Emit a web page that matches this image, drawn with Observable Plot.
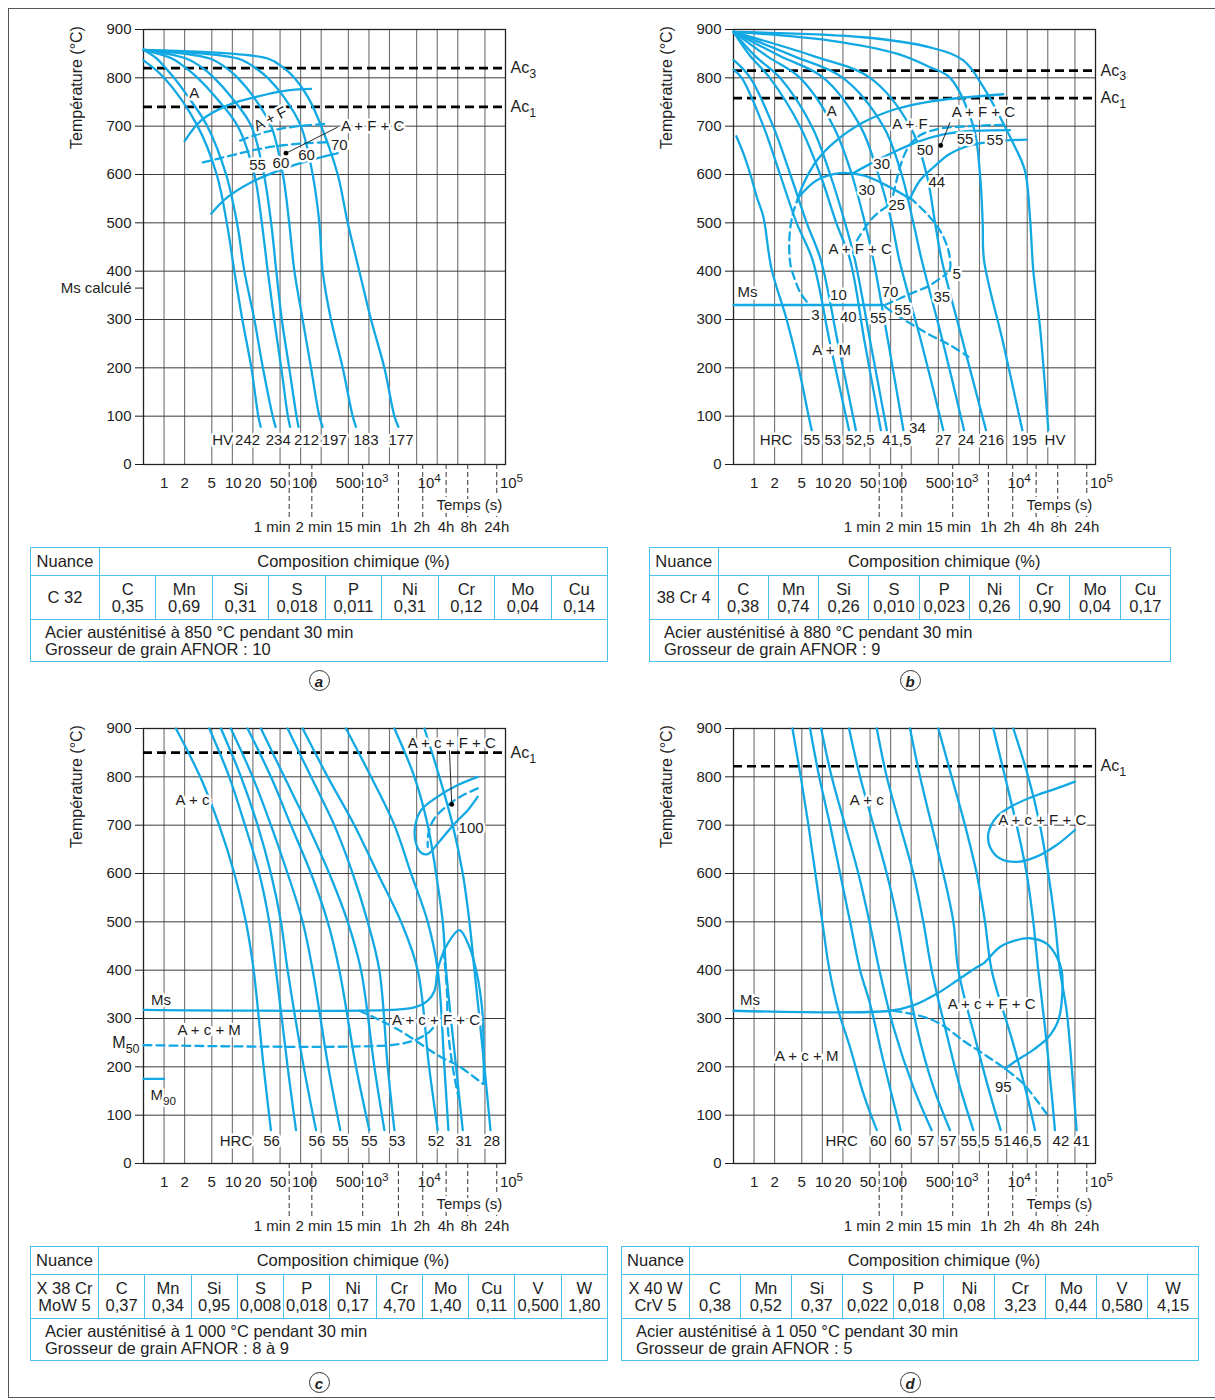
<!DOCTYPE html>
<html><head><meta charset="utf-8">
<script src="https://cdn.jsdelivr.net/npm/d3@7"></script>
<script src="https://cdn.jsdelivr.net/npm/@observablehq/plot@0.6"></script>
<style>
body{margin:0;background:#fff;}
#page{position:relative;width:1215px;height:1400px;overflow:hidden;font-family:'Liberation Sans',Arial,sans-serif;color:#1e1e1e;}
.frame{position:absolute;left:8px;top:8px;width:1240px;height:1390px;border:1.5px solid #555;box-sizing:border-box;}
.panel{position:absolute;}
table.tbl{position:absolute;border-collapse:collapse;table-layout:fixed;font-size:16.5px;color:#1e1e1e;}
table.tbl td{border:1.6px solid #4dbfec;text-align:center;padding:0;line-height:17px;white-space:nowrap;}
.circ{position:absolute;width:21px;height:21px;border:1.3px solid #333;border-radius:50%;text-align:center;font-style:italic;font-weight:bold;font-size:15px;line-height:21px;box-sizing:border-box;}
</style></head>
<body>
<div id="page"><div class="frame"></div></div>
<script>
// ---------------- shared axis data ----------------
const xGrid = [1,2,5,10,20,50,100,200,500,1e3,2e3,5e3,1e4,2e4,5e4];
const yGrid = [100,200,300,400,500,600,700,800];
const yTickValues = [0,100,200,300,400,500,600,700,800,900];
const xTickValues = [1,2,5,10,20,50,100,500,1000,10000,100000];
const xTickLabels = ["1","2","5","10","20","50","100","500","10³","10⁴","10⁵"];
const markTimes = [68,146,811,2700,6140,13500,28000,74500];
const markLabels = ["1 min","2 min","15 min","1h","2h","4h","8h","24h"];

// ---------------- panel a : C 32 ----------------
const aAc = [820, 740];
const aAcLabels = ["Ac₃","Ac₁"];
const aMsCalc = 365;
const aCooling = [
 [[0.5,836],[1.0,800],[3.1,700],[5.9,600],[8.3,500],[10.7,400],[14,300],[19,200],[24,100],[26,78]],
 [[0.5,858],[0.78,840],[1.06,820],[1.4,800],[2.27,760],[4.3,700],[8.1,600],[11.7,500],[15,400],[21,300],[28,200],[39,100],[43,78]],
 [[0.5,858],[1.3,840],[2.1,820],[3.1,800],[5.7,760],[12,700],[21,600],[27,500],[33,400],[41,300],[52,200],[65,100],[70,78]],
 [[0.5,858],[2.1,840],[3.7,820],[5.4,800],[9.7,760],[19,700],[29,600],[37,500],[44,400],[53,300],[68,200],[87,100],[93,78]],
 [[0.5,858],[4.65,840],[8.2,820],[12,800],[20.6,760],[37,700],[55,600],[68,500],[81,400],[107,300],[142,200],[188,100],[210,78]],
 [[0.5,858],[12,840],[22,820],[33,800],[57,760],[101,700],[150,600],[188,500],[210,400],[278,300],[413,200],[578,100],[647,78]],
 [[0.5,858],[33,840],[57,820],[81,800],[128,760],[200,700],[349,600],[489,500],[724,400],[1074,300],[1683,200],[2360,100],[2697,78]]
];
const aSolid = [
 [[2.0,669],[3.5,712],[8.5,743],[23,761],[65,774],[142,777]],
 [[4.9,519],[8.5,553],[19,584],[52,610],[127,628],[349,644]]
];
const aDashed = [
 [[13,670],[23,683],[41,692],[81,699],[249,705]],
 [[3.7,625],[6.8,634],[13,644],[23,652],[52,660],[127,665],[279,667]]
];
const aLabels = [["A",2.76,768],["A + F",36,715,-28],["A + F + C",1135,700],["55",23.4,619],["60",51.5,623],["60",122,639],["70",369,661]];
const aDots = [[61,644]];
const aPointers = [[61,644,349,698]];
const aBottom = [["HV",7.2],["242",16.7],["234",47],["212",122],["197",311],["183",906],["177",2950]];

// ---------------- panel b : 38 Cr 4 ----------------
const bAc = [815, 758];
const bAcLabels = ["Ac₃","Ac₁"];
const bCooling = [
 [[0.55,679],[0.7,643],[0.88,601],[1.1,553],[1.37,512],[1.8,405],[3.0,300],[4.5,200],[6.3,100],[7.0,71]],
 [[0.5,817],[0.66,800],[1.37,700],[2.4,600],[4.2,500],[7.2,423],[13,250],[24.6,71]],
 [[0.5,837],[0.88,800],[1.9,700],[3.4,600],[5.9,500],[9.5,423],[17,250],[31,71]],
 [[0.5,895],[0.88,845],[1.7,800],[4.7,700],[9.3,600],[16,500],[25.5,423],[42,250],[72,71]],
 [[0.5,895],[1.04,845],[2.4,800],[7.0,700],[13,600],[21.5,500],[30,423],[51,250],[88,71]],
 [[0.5,895],[1.54,845],[4.7,800],[14.5,700],[27,600],[42,500],[56,423],[93,250],[154,71]],
 [[0.5,895],[2.4,845],[10.4,800],[36,700],[66,600],[104,500],[134,423],[285,250],[591,71]],
 [[0.5,895],[3.8,845],[20,800],[78,700],[145,600],[215,500],[285,423],[591,250],[1188,71]],
 [[0.5,895],[7.4,845],[50,800],[192,700],[337,600],[447,500],[560,423],[1161,250],[2493,71]],
 [[0.5,895],[13,877],[123,850],[378,822],[741,800],[1626,700],[2037,600],[2228,500],[2330,423],[4470,250],[8480,71]],
 [[0.5,895],[40,884],[378,863],[1161,836],[2280,781],[3570,732],[6260,664],[9270,608],[10970,512],[12280,401],[15370,285],[20380,71]]
];
const bSolid = [
 [[0.5,330],[78,330]],
 [[4.2,543],[5.3,581],[8.3,629],[16,670],[40,708],[123,736],[378,751],[1161,759],[4470,766]],
 [[4.5,553],[8.3,588],[18,603],[40,598],[88,577],[192,550]],
 [[192,550],[270,588],[423,615],[741,643],[1451,660],[3570,669],[9810,672]],
 [[27,601],[50,622],[110,646],[241,667],[591,683],[1451,690],[5600,692]]
];
const bDashed = [
 [[98,532],[116,574],[137,615],[182,657],[270,681],[529,695],[1451,700],[4730,703]],
 [[32,463],[56,512],[110,541],[192,552]],
 [[5.9,337],[4.7,357],[4.0,381],[3.4,415],[3.3,470],[3.7,519],[4.5,553]],
 [[192,552],[337,519],[529,484],[700,443],[741,405],[662,395]],
 [[83,330],[172,350],[378,371],[662,395]],
 [[83,326],[123,309],[215,288],[378,268],[741,247],[1374,223]]
];
const bLabels = [["A",13.7,732],["A + F",192,705],["A + F + C",2280,729],["30",74,622],["30",44.7,567],["50",319,650],
 ["55",1227,674],["55",3370,670],["44",473,584],["25",123,536],["A + F + C",35.7,446],["Ms",0.8,357],["10",17.2,350],
 ["70",98,357],["35",560,347],["5",927,394],["3",7.9,309],["40",24,305],["55",66,302],["55",150,319],["A + M",13.7,236],["34",247,75]];
const bDots = [[541,660]];
const bPointers = [[541,660,741,708]];
const bBottom = [["HRC",2.1],["55",7.0],["53",14.2],["52,5",35.7],["41,5",123],["27",591],["24",1270],["216",3015],["195",9070],["HV",25500]];

// ---------------- panel c : X 38 CrMoW 5 ----------------
const cAc = [850];
const cAcLabels = ["Ac₁"];
const cCooling = [
 [[1.49,900],[3.38,800],[6.4,700],[10.7,600],[15.8,500],[20.5,400],[28.7,200],[36.7,69]],
 [[4.6,900],[9.0,800],[15.3,700],[24.8,600],[34.7,500],[43.5,400],[64.5,200],[85.5,69]],
 [[6.8,900],[13.4,800],[23.4,700],[36.7,600],[51.5,500],[64.5,400],[111,200],[168,69]],
 [[9.5,900],[19.8,800],[36.7,700],[64.5,600],[107,500],[150,400],[254,200],[381,69]],
 [[16.7,900],[36.7,800],[72,700],[142,600],[249,500],[369,400],[647,200],[1014,69]],
 [[26.2,900],[57.6,800],[127,700],[263,600],[489,500],[766,400],[1202,200],[1683,69]],
 [[64.5,900],[142,800],[311,700],[578,600],[959,500],[1422,400],[1884,200],[2360,69]],
 [[107,900],[249,800],[612,700],[1343,600],[2953,500],[5183,400],[7605,200],[10185,69]],
 [[461,900],[1074,800],[2360,700],[4140,600],[7265,500],[10185,400],[12735,200],[14585,69]],
 [[2360,900],[4633,800],[7265,700],[9620,600],[12050,500],[13490,400],[18880,200],[23660,69]],
 [[6486,900],[10766,800],[16895,700],[23660,600],[29645,500],[35075,400],[49175,200],[60250,69]]
];
const cSolid = [
 [[0.5,318],[2108,318],[4633,323],[7265,337],[9100,357],[9950,392],[10766,414],[14260,455],[21140,483],[29645,448],[37130,400],[42950,350],[46500,302],[48000,213],[48000,165]],
 [[0.5,175],[1,175]],
 [[39270,800],[20000,783],[10185,759],[5810,731],[4740,697],[4900,662],[5810,643],[7265,640],[10185,662],[17870,703],[28040,731],[39270,759]]
];
const cDashed = [
 [[0.5,245],[2108,245],[4633,255],[7605,272],[9620,289]],
 [[724,316],[1202,302],[2108,285],[3700,265],[6486,242],[11400,220],[20000,203],[46500,165]],
 [[12470,441],[13160,400],[13950,351],[14260,282],[16895,199],[20460,137]],
 [[39270,776],[22380,760],[13490,738],[9100,714],[7430,683],[7265,655]]
];
const cLabels = [["A + c",2.61,752],["A + c + F + C",16330,869],["100",31340,693],["Ms",0.9,338],["A + c + M",4.58,275],["M₉₀",0.97,141],["A + c + F + C",9620,296]];
const cM50 = 250;
const cDots = [[16330,743]];
const cPointers = [[16330,743,15100,855]];
const cBottom = [["HRC",11.3],["56",37.6],["56",173],["55",381],["55",1014],["53",2580],["52",9620],["31",24500],["28",62900]];

// ---------------- panel d : X 40 WCrV 5 ----------------
const dAc = [822];
const dAcLabels = ["Ac₁"];
const dCooling = [
 [[3.65,900],[4.83,800],[6.26,700],[7.9,600],[10,500],[12.7,400],[17.2,316],[25.5,240],[40,144],[62.7,69]],
 [[6.6,900],[9.0,800],[13,700],[18.2,600],[25.5,500],[35.7,400],[50,330],[78,213],[140,69]],
 [[9.6,900],[13.7,800],[21.5,700],[33.7,600],[48.9,500],[68.5,400],[110,282],[215,158],[399,69]],
 [[24.6,900],[35.7,800],[56,700],[87.7,600],[127,500],[168,400],[241,282],[423,158],[741,69]],
 [[62.7,900],[87.7,800],[137,700],[215,600],[301,500],[399,400],[662,268],[1038,158],[1626,69]],
 [[192,900],[270,800],[399,700],[591,600],[830,500],[981,400],[1820,247],[2851,144],[4083,69]],
 [[500,900],[783,800],[1227,700],[1820,600],[2410,500],[3015,400],[6260,247],[9810,144],[13000,69]],
 [[3190,900],[4730,800],[7000,700],[9810,600],[12280,500],[14520,400],[18200,282],[22800,144],[25470,69]],
 [[6260,900],[10370,800],[15380,700],[20370,600],[25470,500],[30130,400],[37760,316],[47300,158],[52860,69]]
];
const dSolid = [
 [[0.5,316],[98,316],[215,327],[473,351],[927,378],[1820,406],[2280,414],[3990,448],[7000,462],[10970,466],[19230,455],[26980,428],[31900,400],[32650,351],[28500,296],[20370,261],[12280,235],[7000,213],[4730,196]],
 [[50000,790],[26980,776],[13740,762],[6260,741],[3570,717],[2700,683],[2850,655],[3990,631],[7000,624],[13740,635],[26980,659],[50000,690]]
];
const dDashed = [
 [[110,316],[215,309],[378,299],[591,285],[1161,254],[2280,227],[4730,196],[8770,165],[13740,131],[19230,103]]
];
const dLabels = [["A + c",44.7,752],["A + c + F + C",16600,710],["Ms",0.87,338],["A + c + M",5.9,223],["A + c + F + C",3015,330],["95",4470,158]];
const dBottom = [["HRC",19.2],["60",66],["60",150],["57",330],["57",700],["55,5",1720],["51",4370],["46,5",9810],["42",31200],["41",62600]];

// ---------------- tables ----------------
const aGrade = ["C 32"];
const aElems = ["C","Mn","Si","S","P","Ni","Cr","Mo","Cu"];
const aVals = ["0,35","0,69","0,31","0,018","0,011","0,31","0,12","0,04","0,14"];
const aNotes = ["Acier austénitisé à 850 °C pendant 30 min","Grosseur de grain AFNOR : 10"];
const bGrade = ["38 Cr 4"];
const bElems = ["C","Mn","Si","S","P","Ni","Cr","Mo","Cu"];
const bVals = ["0,38","0,74","0,26","0,010","0,023","0,26","0,90","0,04","0,17"];
const bNotes = ["Acier austénitisé à 880 °C pendant 30 min","Grosseur de grain AFNOR : 9"];
const cGrade = ["X 38 Cr","MoW 5"];
const cElems = ["C","Mn","Si","S","P","Ni","Cr","Mo","Cu","V","W"];
const cVals = ["0,37","0,34","0,95","0,008","0,018","0,17","4,70","1,40","0,11","0,500","1,80"];
const cNotes = ["Acier austénitisé à 1 000 °C pendant 30 min","Grosseur de grain AFNOR : 8 à 9"];
const dGrade = ["X 40 W","CrV 5"];
const dElems = ["C","Mn","Si","S","P","Ni","Cr","Mo","V","W"];
const dVals = ["0,38","0,52","0,37","0,022","0,018","0,08","3,23","0,44","0,580","4,15"];
const dNotes = ["Acier austénitisé à 1 050 °C pendant 30 min","Grosseur de grain AFNOR : 5"];

// ---------------- drawing ----------------
const BLUE = "#12a8e3";
const INK = "#1e1e1e";
const FONT = "'Liberation Sans', Arial, sans-serif";
const xTickDx = [0,0,0,1,0,-2,4,0,8,-8,6];
const markDx = [-17,2,-4,0,-1,0,1,0];

function rows(curves){ return curves.flatMap((c,i)=>c.map(([t,T])=>({t,T,id:i}))); }

function makePanel(cfg){
  const marks = [
    Plot.ruleX(xGrid,{stroke:"#707070",strokeWidth:1.1}),
    Plot.ruleY(yGrid,{stroke:"#3a3a3a",strokeWidth:1}),
    Plot.frame({stroke:"#222",strokeWidth:1.3}),
    Plot.ruleY(cfg.ac,{stroke:"#000",strokeWidth:2.6,strokeDasharray:"9,5"}),
    Plot.line(rows(cfg.cooling),{x:"t",y:"T",z:"id",curve:"catmull-rom",stroke:BLUE,strokeWidth:2.3}),
    Plot.line(rows(cfg.solid),{x:"t",y:"T",z:"id",curve:"catmull-rom",stroke:BLUE,strokeWidth:2.3}),
    Plot.line(rows(cfg.dashed),{x:"t",y:"T",z:"id",curve:"catmull-rom",stroke:BLUE,strokeWidth:2.3,strokeDasharray:"8,5"}),
    Plot.link(cfg.pointers||[],{x1:d=>d[0],y1:d=>d[1],x2:d=>d[2],y2:d=>d[3],stroke:"#111",strokeWidth:0.9}),
    Plot.dot(cfg.dots||[],{x:d=>d[0],y:d=>d[1],r:2.4,fill:"#000"}),
    Plot.ruleX(markTimes,{y1:()=>0,y2:()=>-112,stroke:"#333",strokeWidth:1,strokeDasharray:"5,3"}),
    Plot.text(cfg.labels,{x:d=>d[1],y:d=>d[2],text:d=>d[0],rotate:d=>d[3]||0,stroke:"white",strokeWidth:5,fill:INK}),
    Plot.text(cfg.bottom,{x:d=>d[1],y:()=>cfg.bottomT,text:d=>d[0],stroke:"white",strokeWidth:5,fill:INK}),
    Plot.text(cfg.acLabels,{x:()=>1e5,y:(d,i)=>cfg.ac[i],text:d=>d,textAnchor:"start",dx:5,fill:INK,fontSize:16}),
    Plot.text(["Température (°C)"],{x:()=>0.5,y:()=>780,text:d=>d,rotate:-90,dx:-67,fill:INK,fontSize:16}),
    Plot.text(["Temps (s)"],{x:()=>29600,y:()=>-85,text:d=>d,stroke:"white",strokeWidth:6,fill:INK})
  ];
  if (cfg.m50 != null) marks.push(Plot.text(["M₅₀"],{x:()=>0.5,y:()=>cfg.m50,text:d=>d,textAnchor:"end",dx:-4,fill:INK,fontSize:16}));
  xTickValues.forEach((v,i)=>marks.push(Plot.text([v],{x:d=>d,y:()=>-39,text:()=>xTickLabels[i],dx:xTickDx[i],fill:INK})));
  markTimes.forEach((v,i)=>marks.push(Plot.text([v],{x:d=>d,y:()=>-129,text:()=>markLabels[i],dx:markDx[i],fill:INK})));
  const yT = cfg.msCalc != null ? yTickValues.concat([cfg.msCalc]) : yTickValues;
  const svg = Plot.plot({
    width:502,height:530,marginLeft:100,marginRight:40,marginTop:20,marginBottom:75,
    style:{fontFamily:FONT,fontSize:"15px",color:INK,background:"transparent",overflow:"visible"},
    x:{type:"log",domain:[0.5,1e5],axis:null},
    y:{domain:[0,900],ticks:yT,tickSize:8,tickPadding:4,label:null,
       tickFormat:d=>(cfg.msCalc!=null && d===cfg.msCalc)?"Ms calculé":String(d)},
    marks
  });
  fixScripts(svg);
  return svg;
}

// turn unicode sub/superscript digits into real SVG tspans
function fixScripts(svg){
  const sub="₀₁₂₃₄₅₆₇₈₉", sup="⁰¹²³⁴⁵⁶⁷⁸⁹";
  svg.querySelectorAll("text").forEach(t=>{
    if (t.querySelector("tspan")) return;
    const s=t.textContent;
    if(![...s].some(c=>sub.includes(c)||sup.includes(c))) return;
    let base="", scr="", kind=null;
    for(const c of s){
      if(sub.includes(c)){kind="sub";scr+=sub.indexOf(c);}
      else if(sup.includes(c)){kind="sup";scr+=sup.indexOf(c);}
      else base+=c;
    }
    t.textContent=base;
    const ts=document.createElementNS("http://www.w3.org/2000/svg","tspan");
    ts.setAttribute("font-size","0.78em");
    ts.setAttribute("dy", kind==="sub"?"0.38em":"-0.5em");
    ts.textContent=scr;
    t.appendChild(ts);
  });
}

const page = document.getElementById("page");
function place(node,left,top){ const w=document.createElement("div"); w.className="panel"; w.style.left=left+"px"; w.style.top=top+"px"; w.appendChild(node); page.appendChild(w); }

place(makePanel({cooling:aCooling,solid:aSolid,dashed:aDashed,ac:aAc,acLabels:aAcLabels,labels:aLabels,bottom:aBottom,bottomT:50,dots:aDots,pointers:aPointers,msCalc:aMsCalc}),42.7,9);
place(makePanel({cooling:bCooling,solid:bSolid,dashed:bDashed,ac:bAc,acLabels:bAcLabels,labels:bLabels,bottom:bBottom,bottomT:50,dots:bDots,pointers:bPointers}),633.3,9);
place(makePanel({cooling:cCooling,solid:cSolid,dashed:cDashed,ac:cAc,acLabels:cAcLabels,labels:cLabels,bottom:cBottom,bottomT:46,dots:cDots,pointers:cPointers,m50:cM50}),42.7,708.3);
place(makePanel({cooling:dCooling,solid:dSolid,dashed:dDashed,ac:dAc,acLabels:dAcLabels,labels:dLabels,bottom:dBottom,bottomT:46}),633.3,708.3);

function makeTable(left,top,width,nuanceW,grade,elems,vals,notes){
  const n = elems.length, colW=(width-nuanceW)/n;
  let h = `<table class="tbl" style="left:${left}px;top:${top}px;width:${width}px">`;
  h += `<colgroup><col style="width:${nuanceW}px">` + elems.map(()=>`<col style="width:${colW}px">`).join("") + `</colgroup>`;
  h += `<tr style="height:28px"><td>Nuance</td><td colspan="${n}">Composition chimique (%)</td></tr>`;
  h += `<tr style="height:44px"><td>${grade.join("<br>")}</td>` + elems.map((e,i)=>`<td>${e}<br>${vals[i]}</td>`).join("") + `</tr>`;
  h += `<tr style="height:42px"><td colspan="${n+1}" style="text-align:left;padding-left:14px">${notes.join("<br>")}</td></tr>`;
  h += `</table>`;
  page.insertAdjacentHTML("beforeend",h);
}
makeTable(30,547,577,69,aGrade,aElems,aVals,aNotes);
makeTable(649,547,521,68.5,bGrade,bElems,bVals,bNotes);
makeTable(30,1246,577,68,cGrade,cElems,cVals,cNotes);
makeTable(621,1246,577,68,dGrade,dElems,dVals,dNotes);

[["a",319,680],["b",910,680],["c",319,1382],["d",910,1382]].forEach(([l,cx,cy])=>{
  page.insertAdjacentHTML("beforeend",`<div class="circ" style="left:${cx-10.5}px;top:${cy-10.5}px">${l}</div>`);
});
</script>
</body></html>
